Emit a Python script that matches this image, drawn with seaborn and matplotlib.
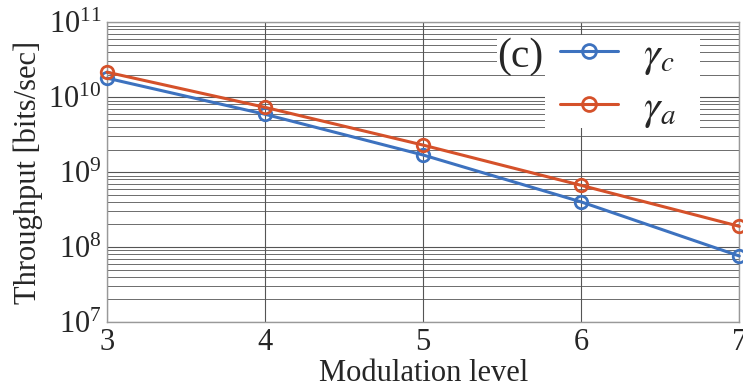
import numpy as np
import pandas as pd
import matplotlib
matplotlib.use("Agg")
import matplotlib.pyplot as plt
from matplotlib.patches import Rectangle
import seaborn as sns

# Throughput versus modulation level for the two schemes
modulation = [3, 4, 5, 6, 7]
gamma_c = [1.79e10, 5.9e9, 1.69e9, 4.0e8, 7.6e7]
gamma_a = [2.15e10, 7.3e9, 2.29e9, 6.65e8, 1.89e8]
series_labels = [r"$\gamma_c$", r"$\gamma_a$"]
y_ticks = [1e7, 1e8, 1e9, 1e10, 1e11]

sns.set_style("white")
plt.rcParams["font.family"] = ["Liberation Serif", "DejaVu Serif"]
plt.rcParams["mathtext.fontset"] = "stix"

df = pd.DataFrame({
    "level": modulation * 2,
    "throughput": gamma_c + gamma_a,
    "scheme": [series_labels[0]] * len(modulation) + [series_labels[1]] * len(modulation),
})

fig = plt.figure(figsize=(7.43, 3.88), dpi=100)
ax = fig.add_axes([0.144, 0.170, 0.851, 0.773])

palette = {series_labels[0]: "#3D72BF", series_labels[1]: "#D5512A"}
sns.lineplot(data=df, x="level", y="throughput", hue="scheme", palette=palette,
             marker="o", markersize=9, markerfacecolor="none", markeredgewidth=2,
             linewidth=2.2, ax=ax, legend=False, zorder=3)
for line in ax.lines:
    line.set_markeredgecolor(line.get_color())
    line.set_clip_on(False)

ax.set_yscale("log")
ax.set_ylim(1e7, 1e11)
ax.set_xlim(3, 7)
ax.set_xticks(modulation)
ax.yaxis.set_major_locator(matplotlib.ticker.FixedLocator(y_ticks))
ax.yaxis.set_minor_locator(matplotlib.ticker.LogLocator(base=10, subs=np.arange(2, 10),
                                                        numticks=100))
ax.yaxis.set_minor_formatter(matplotlib.ticker.NullFormatter())

ax.grid(True, which="major", color="#555555", linewidth=0.8)
ax.grid(True, which="minor", axis="y", color="#555555", linewidth=0.6)
ax.set_axisbelow(True)
for s in ax.spines.values():
    s.set_color("#999999")
    s.set_linewidth(1.0)

ax.tick_params(axis="both", which="both", length=0, labelsize=22, pad=4)
ax.set_xlabel("Modulation level", fontsize=22, labelpad=2)
ax.set_ylabel("Throughput [bits/sec]", fontsize=22, labelpad=4)

# White panels behind the legend and the panel tag
ax.add_patch(Rectangle((0.693, 0.647), 0.245, 0.310, transform=ax.transAxes,
                       facecolor="white", edgecolor="none", zorder=4))
ax.add_patch(Rectangle((0.617, 0.823), 0.077, 0.134, transform=ax.transAxes,
                       facecolor="white", edgecolor="none", zorder=4))

handles = [matplotlib.lines.Line2D([], [], color=palette[l], marker="o", markersize=10,
                                   markerfacecolor="none", markeredgewidth=2, linewidth=2.2)
           for l in series_labels]
leg = ax.legend(handles, series_labels, loc="center", bbox_to_anchor=(0.8085, 0.797),
                fontsize=30, frameon=False, handlelength=1.4, handletextpad=0.6,
                labelspacing=0.29, borderpad=0.0, borderaxespad=0)
leg.set_zorder(5)
ax.text(0.6535, 0.883, "(c)", transform=ax.transAxes, fontsize=30, ha="center",
        va="center", zorder=6)

fig.savefig("out.png", dpi=100)
